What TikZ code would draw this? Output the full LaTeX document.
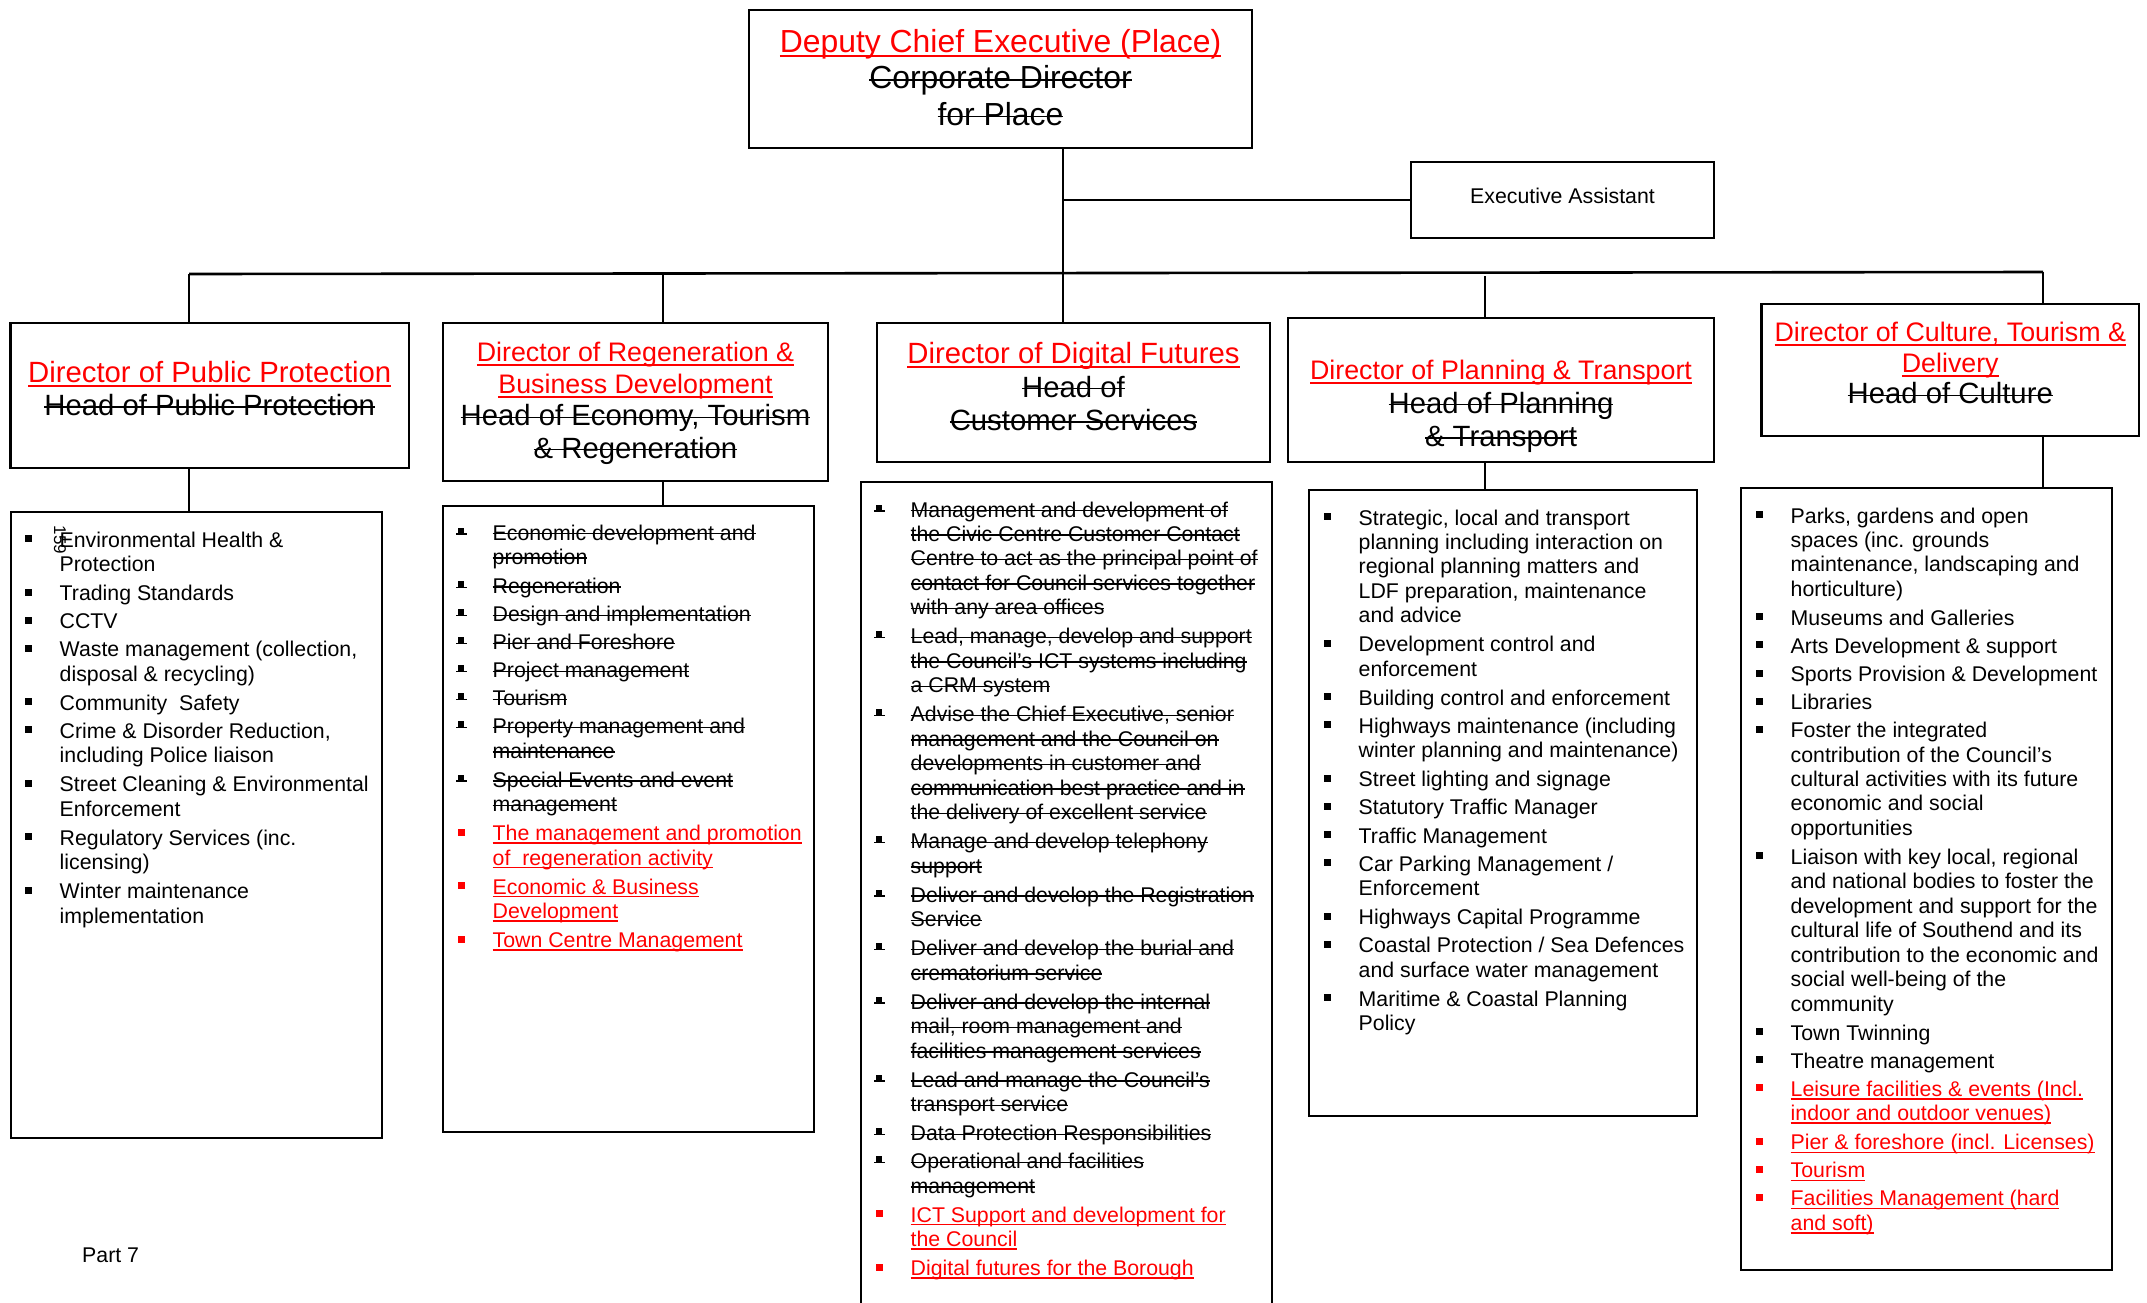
\documentclass[tikz,border=0pt]{standalone}
\usepackage{fontspec}
\setmainfont{Liberation Sans}
\definecolor{rd}{RGB}{255,0,0}
\newlength\tmpw
\newcommand\lf{\fontsize{21.3}{24.45}\selectfont}
\newcommand\rs{\fontsize{26.8}{30}\selectfont}
\newcommand\ru[1]{\settowidth\tmpw{#1}\makebox[0pt][l]{\rule[-0.15em]{\tmpw}{1.5pt}}#1}
\newcommand\so[1]{\settowidth\tmpw{#1}\makebox[0pt][l]{\rule[0.26em]{\tmpw}{1.5pt}}#1}
\newcommand\bulN{\rule[5pt]{7pt}{7pt}}
\newcommand\bulS{\makebox[0pt][l]{\hspace{-1.5pt}\rule[5.4pt]{10.5pt}{1.4pt}}\rule[6pt]{6.5pt}{6.5pt}}
\newcommand\bulR{{\color{rd}\rule[5pt]{7pt}{7pt}}}
\newcommand\itm[2]{\noindent\makebox[35pt][l]{\strut#1}\parbox[t]{430pt}{\raggedright\strut #2\strut}\par\vspace{3.6pt}}
\newcommand\nitm[1]{\itm{\bulN}{#1}}
\newcommand\sitm[1]{\itm{\bulS}{#1}}
\newcommand\ritm[1]{\itm{\bulR}{\color{rd}#1}}
\setlength\parskip{0pt}
\setlength\lineskip{0pt}
\begin{document}
\begin{tikzpicture}[x=1pt,y=-1pt,
  box/.style={draw=black, line width=2pt, inner sep=0pt},
  dbox/.style={box, line width=2.4pt},
  tbox/.style={box, line width=2.8pt},
  conn/.style={line width=1.8pt},
  bus/.style={line width=2.6pt},
  lst/.style={anchor=base west, inner sep=0pt},
  ttl/.style={anchor=base, inner sep=0pt, align=center}]
\fill[white] (0,0) rectangle (2147,1302);
\useasboundingbox (0,0) rectangle (2147,1302);

% boxes
\node[tbox, minimum width=503pt, minimum height=138pt] (top) at (1000.5,79) {};
\node[box, line width=2.4pt, minimum width=303pt, minimum height=76pt] (ea) at (1562.5,200) {};
\node[dbox, minimum width=398.5pt, minimum height=145pt] (d1) at (209.75,395.5) {};
\node[dbox, minimum width=385pt, minimum height=158pt] (d2) at (635.5,402) {};
\node[dbox, minimum width=393pt, minimum height=139pt] (d3) at (1073.5,392.5) {};
\node[dbox, minimum width=426pt, minimum height=144pt] (d4) at (1501,390) {};
\node[dbox, minimum width=377.5pt, minimum height=132pt] (d5) at (1950.25,370) {};
\node[box, minimum width=371.3pt, minimum height=626pt] (l1) at (196.35,825) {};
\node[box, minimum width=371pt, minimum height=626pt] (l2) at (628.5,819) {};
\node[box, minimum width=411pt, minimum height=838pt] (l3) at (1066.5,901) {};
\node[box, minimum width=388pt, minimum height=626pt] (l4) at (1503,803) {};
\node[box, minimum width=371pt, minimum height=782pt] (l5) at (1926.5,879) {};

% connectors
\coordinate (j0) at (1063,273);
\coordinate (busL) at (189,274);
\coordinate (busR) at (2043,272);
\coordinate (j2) at (663,273.8);
\coordinate (j4) at (1485,276);
\draw[conn] (top.south -| j0) -- (j0);
\draw[bus] (j0 |- ea.west) -- (ea.west);
\draw[bus] (busL) -- (busR);
\draw[conn] (busL) -- (busL |- d1.north);
\draw[conn] (j2) -- (j2 |- d2.north);
\draw[conn] (j0) -- (j0 |- d3.north);
\draw[conn] (j4) -- (j4 |- d4.north);
\draw[conn] (busR) -- (busR |- d5.north);
\draw[conn] (busL |- d1.south) -- (busL |- l1.north);
\draw[conn] (j2 |- d2.south) -- (j2 |- l2.north);
\draw[conn] (j4 |- d4.south) -- (j4 |- l4.north);
\draw[conn] (busR |- d5.south) -- (busR |- l5.north);

% titles
\node[ttl] (h0) at (1000.5,52) {\fontsize{31.9}{36.8}\selectfont\begin{tabular}[t]{@{}c@{}}\color{rd}\ru{Deputy Chief Executive (Place)}\\ \so{Corporate Director}\\ \so{for Place}\end{tabular}};
\node[anchor=center, inner sep=0pt, font=\lf] (eal) at (1562.5,196) {Executive Assistant};
\node[ttl] (h1) at (209.75,382.5) {\fontsize{29.3}{33}\selectfont\begin{tabular}[t]{@{}c@{}}\color{rd}\ru{Director of Public Protection}\\ \so{Head of Public Protection}\end{tabular}};
\node[ttl] (h2) at (635.5,361.5) {\fontsize{29.3}{32.2}\selectfont\begin{tabular}[t]{@{}c@{}}\rs\color{rd}\ru{Director of Regeneration \&}\\ \rs\color{rd}\ru{Business Development}\\ \so{Head of Economy, Tourism}\\ \so{\& Regeneration}\end{tabular}};
\node[ttl] (h3) at (1073.5,363.5) {\fontsize{29.3}{33.5}\selectfont\begin{tabular}[t]{@{}c@{}}\color{rd}\ru{Director of Digital Futures}\\ \so{Head of}\\ \so{Customer Services}\end{tabular}};
\node[ttl] (h4) at (1501,379.5) {\fontsize{29.3}{33.5}\selectfont\begin{tabular}[t]{@{}c@{}}\rs\color{rd}\ru{Director of Planning \& Transport}\\ \so{Head of Planning}\\ \so{\& Transport}\end{tabular}};
\node[ttl] (h5) at (1950.25,341.5) {\fontsize{29.3}{31.2}\selectfont\begin{tabular}[t]{@{}c@{}}\rs\color{rd}\ru{Director of Culture, Tourism \&}\\ \rs\color{rd}\ru{Delivery}\\ \so{Head of Culture}\end{tabular}};

% lists
\node[lst] (t1) at (24.5,547) {\parbox[t]{470pt}{\lf
\nitm{Environmental Health \&\\Protection}
\nitm{Trading Standards}
\nitm{CCTV}
\nitm{Waste management (collection,\\disposal \& recycling)}
\nitm{Community\ \ Safety}
\nitm{Crime \& Disorder Reduction,\\including Police liaison}
\nitm{Street Cleaning \& Environmental\\Enforcement}
\nitm{Regulatory Services (inc.\\licensing)}
\nitm{Winter maintenance\\implementation}}};
\node[inner sep=0pt, rotate=-90, font=\fontsize{17}{18}\selectfont] (pg) at (60,540) {159};

\node[lst] (t2) at (457.5,540) {\parbox[t]{470pt}{\lf
\sitm{\so{Economic development and}\\\so{promotion}}
\sitm{\so{Regeneration}}
\sitm{\so{Design and implementation}}
\sitm{\so{Pier and Foreshore}}
\sitm{\so{Project management}}
\sitm{\so{Tourism}}
\sitm{\so{Property management and}\\\so{maintenance}}
\sitm{\so{Special Events and event}\\\so{management}}
\ritm{\ru{The management and promotion}\\\ru{of~ regeneration activity}}
\ritm{\ru{Economic \& Business}\\\ru{Development}}
\ritm{\ru{Town Centre Management}}}};

\node[lst] (t3) at (875.5,517) {\parbox[t]{470pt}{\lf
\sitm{\so{Management and development of}\\\so{the Civic Centre Customer Contact}\\\so{Centre to act as the principal point of}\\\so{contact for Council services together}\\\so{with any area offices}}
\sitm{\so{Lead, manage, develop and support}\\\so{the Council’s ICT systems including}\\\so{a CRM system}}
\sitm{\so{Advise the Chief Executive, senior}\\\so{management and the Council on}\\\so{developments in customer and}\\\so{communication best practice and in}\\\so{the delivery of excellent service}}
\sitm{\so{Manage and develop telephony}\\\so{support}}
\sitm{\so{Deliver and develop the Registration}\\\so{Service}}
\sitm{\so{Deliver and develop the burial and}\\\so{crematorium service}}
\sitm{\so{Deliver and develop the internal}\\\so{mail, room management and}\\\so{facilities management services}}
\sitm{\so{Lead and manage the Council’s}\\\so{transport service}}
\sitm{\so{Data Protection Responsibilities}}
\sitm{\so{Operational and facilities}\\\so{management}}
\ritm{\ru{ICT Support and development for}\\\ru{the Council}}
\ritm{\ru{Digital futures for the Borough}}}};

\node[lst] (t4) at (1323.5,525) {\parbox[t]{470pt}{\lf
\nitm{Strategic, local and transport\\planning including interaction on\\regional planning matters and\\LDF preparation, maintenance\\and advice}
\nitm{Development control and\\enforcement}
\nitm{Building control and enforcement}
\nitm{Highways maintenance (including\\winter planning and maintenance)}
\nitm{Street lighting and signage}
\nitm{Statutory Traffic Manager}
\nitm{Traffic Management}
\nitm{Car Parking Management /\\Enforcement}
\nitm{Highways Capital Programme}
\nitm{Coastal Protection / Sea Defences\\and surface water management}
\nitm{Maritime \& Coastal Planning\\Policy}}};

\node[lst] (t5) at (1755.5,523) {\parbox[t]{470pt}{\lf
\nitm{Parks, gardens and open\\spaces (inc. grounds\\maintenance, landscaping and\\horticulture)}
\nitm{Museums and Galleries}
\nitm{Arts Development \& support}
\nitm{Sports Provision \& Development}
\nitm{Libraries}
\nitm{Foster the integrated\\contribution of the Council’s\\cultural activities with its future\\economic and social\\opportunities}
\nitm{Liaison with key local, regional\\and national bodies to foster the\\development and support for the\\cultural life of Southend and its\\contribution to the economic and\\social well-being of the\\community}
\nitm{Town Twinning}
\nitm{Theatre management}
\ritm{\ru{Leisure facilities \& events (Incl.}\\\ru{indoor and outdoor venues)}}
\ritm{\ru{Pier \& foreshore (incl. Licenses)}}
\ritm{\ru{Tourism}}
\ritm{\ru{Facilities Management (hard}\\\ru{and soft)}}}};

\node[lst, font=\lf] (p7) at (82,1262) {Part 7};
\end{tikzpicture}
\end{document}
